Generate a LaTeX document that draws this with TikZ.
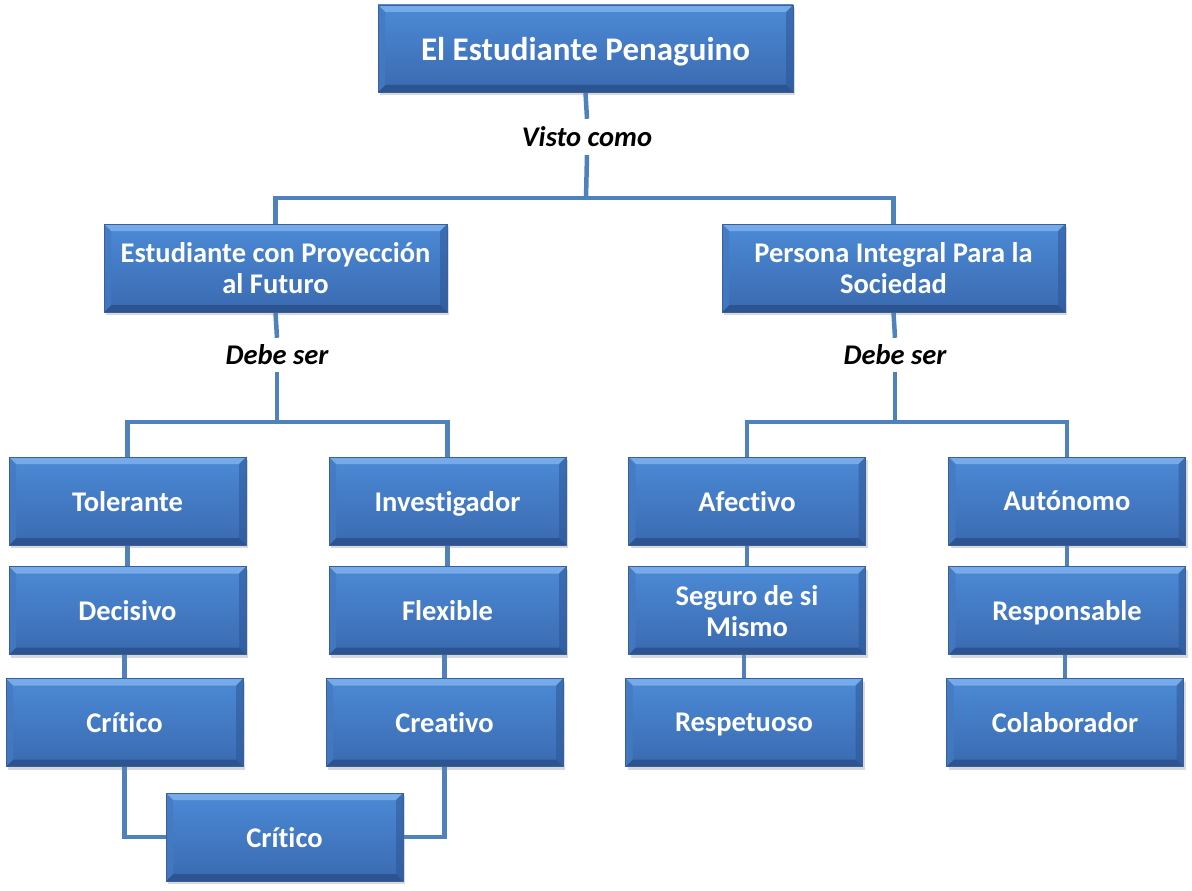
\documentclass[tikz,border=0pt]{standalone}
\usepackage{fontspec}
\setmainfont{Carlito}[Ligatures=NoCommon]
\usetikzlibrary{backgrounds,shadows}
\definecolor{boxtop}{RGB}{76,138,214}
\definecolor{boxbot}{RGB}{58,106,176}
\definecolor{bevlight}{RGB}{118,170,232}
\definecolor{bevdark}{RGB}{44,84,144}
\definecolor{bevside}{RGB}{68,122,194}
\definecolor{edge}{RGB}{56,96,156}
\definecolor{linec}{RGB}{79,129,189}
\tikzset{
  blk/.style={rectangle, draw=edge, line width=0.8pt, top color=boxtop, bottom color=boxbot,
    minimum width=237pt, minimum height=88pt, inner sep=2pt, align=center, text depth=0pt,
    text=white, font=\fontsize{28.5}{31}\selectfont\bfseries,
    drop shadow={shadow xshift=2pt, shadow yshift=-3pt, opacity=0.3},
    path picture={
      \fill[bevlight] (path picture bounding box.north west) -- (path picture bounding box.north east)
        -- ([xshift=-7pt,yshift=-7pt]path picture bounding box.north east) -- ([xshift=7pt,yshift=-7pt]path picture bounding box.north west) -- cycle;
      \fill[bevdark] (path picture bounding box.south west) -- (path picture bounding box.south east)
        -- ([xshift=-7pt,yshift=7pt]path picture bounding box.south east) -- ([xshift=7pt,yshift=7pt]path picture bounding box.south west) -- cycle;
      \fill[bevside,opacity=0.8] (path picture bounding box.north west) -- ([xshift=7pt,yshift=-7pt]path picture bounding box.north west)
        -- ([xshift=7pt,yshift=7pt]path picture bounding box.south west) -- (path picture bounding box.south west) -- cycle;
      \fill[bevdark,opacity=0.5] (path picture bounding box.north east) -- ([xshift=-7pt,yshift=-7pt]path picture bounding box.north east)
        -- ([xshift=-7pt,yshift=7pt]path picture bounding box.south east) -- (path picture bounding box.south east) -- cycle;
    }},
  wide/.style={blk, minimum width=343pt},
  title/.style={blk, minimum width=415pt, minimum height=87pt, font=\fontsize{33}{36}\selectfont\bfseries},
  lbl/.style={font=\fontsize{28.5}{31}\selectfont\bfseries\itshape, text=black, inner sep=0pt, minimum height=36pt},
  conn/.style={draw=linec, line width=4.5pt}
}
\begin{document}
\begin{tikzpicture}[x=1pt,y=-1pt]
\useasboundingbox (0,0) rectangle (1192,891);
\node[title] (top) at (585.5,48.5) {El Estudiante Penaguino};
\node[lbl] (visto) at (587,137) {Visto como};
\node[wide] (est) at (275.5,268) {Estudiante con Proyección\\al Futuro};
\node[wide] (per) at (893.5,268) {Persona Integral Para  la\\Sociedad};
\node[lbl, minimum height=34pt] (debe1) at (277,355) {Debe ser};
\node[lbl, minimum height=34pt] (debe2) at (895,355) {Debe ser};
\node[blk] (tol) at (127.5,501) {Tolerante};
\node[blk] (inv) at (447.5,501) {Investigador};
\node[blk] (afe) at (747,501) {Afectivo};
\node[blk] (aut) at (1067,501) {Autónomo};
\node[blk] (dec) at (127.5,610.5) {Decisivo};
\node[blk] (fle) at (447.5,610.5) {Flexible};
\node[blk] (seg) at (747,610.5) {Seguro de si\\Mismo};
\node[blk] (res) at (1067,610.5) {Responsable};
\node[blk] (cri) at (124.5,722.5) {Crítico};
\node[blk] (cre) at (444.5,722.5) {Creativo};
\node[blk] (resp) at (744,722.5) {Respetuoso};
\node[blk] (col) at (1065,722.5) {Colaborador};
\node[blk] (cri2) at (284.5,837) {Crítico};
\coordinate (j1) at (586,198);
\coordinate (j2) at (277,422);
\coordinate (j3) at (895,422);
\begin{scope}[on background layer]
\draw[conn] (top.south) -- (visto.north);
\draw[conn] (visto.south) -- (j1);
\draw[conn] (est.north) |- (j1);
\draw[conn] (per.north) |- (j1);
\draw[conn] (est.south) -- (debe1.north);
\draw[conn] (per.south) -- (debe2.north);
\draw[conn] (debe1.south) -- (j2);
\draw[conn] (debe2.south) -- (j3);
\draw[conn] (tol.north) |- (j2);
\draw[conn] (inv.north) |- (j2);
\draw[conn] (afe.north) |- (j3);
\draw[conn] (aut.north) |- (j3);
\draw[conn] (tol.south) -- (dec.north);
\draw[conn] (inv.south) -- (fle.north);
\draw[conn] (afe.south) -- (seg.north);
\draw[conn] (aut.south) -- (res.north);
\draw[conn] (cri.north) -- (cri.north |- dec.south);
\draw[conn] (cre.north) -- (cre.north |- fle.south);
\draw[conn] (resp.north) -- (resp.north |- seg.south);
\draw[conn] (col.north) -- (col.north |- res.south);
\draw[conn] (cri.south) |- (cri2.west);
\draw[conn] (cre.south) |- (cri2.east);
\end{scope}
\end{tikzpicture}
\end{document}
